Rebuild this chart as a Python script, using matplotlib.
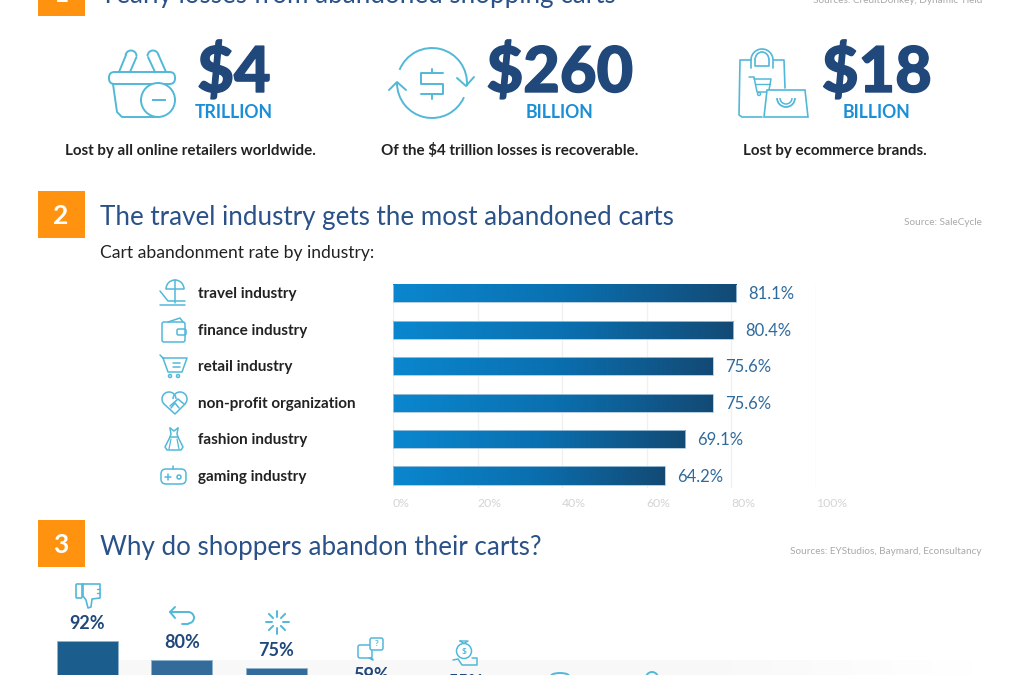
#!/usr/bin/python
# -*- coding: utf-8 -*-
import numpy as np
import matplotlib
matplotlib.use("Agg")
import matplotlib.pyplot as plt
import matplotlib.patheffects as pe
from matplotlib.colors import LinearSegmentedColormap
from matplotlib.patches import Arc, Circle, FancyBboxPatch, Polygon, Rectangle

plt.rcParams['font.family'] = ['Lato', 'DejaVu Sans']

industries = ["travel industry", "finance industry", "retail industry",
              "non-profit organization", "fashion industry", "gaming industry"]
abandon_rate = [81.1, 80.4, 75.6, 75.6, 69.1, 64.2]
rate_ticks = [0, 20, 40, 60, 80, 100]

reason_values = [92, 80, 75, 59, 55]
reason_colors = ["#1b5e8e", "#336c9b", "#336c9b", "#336c9b", "#336c9b"]

big_numbers = ["$4", "$260", "$18"]
big_units = ["TRILLION", "BILLION", "BILLION"]
big_notes = ["Lost by all online retailers worldwide.",
             "Of the $4 trillion losses is recoverable.",
             "Lost by ecommerce brands."]

W, H = 1024, 675
NAVY = "#21487a"
TITLE = "#2a5288"
LINK = "#1a8fd6"
ICON = "#52b8d8"
INK = "#222222"

fig = plt.figure(figsize=(W / 100, H / 100), dpi=100)


def px_axes(x0, y0, x1, y1, **kw):
    # axes placed by pixel box, y measured from the top of the image
    return fig.add_axes([x0 / W, 1 - y1 / H, (x1 - x0) / W, (y1 - y0) / H], **kw)


# grey band behind the lower chart, fades out on the right
band = px_axes(118, 660, 975, 675)
band.imshow(np.linspace(0, 1, 256).reshape(1, -1), aspect="auto",
            cmap=LinearSegmentedColormap.from_list("band", ["#f8f8f8", "#f8f8f8", "#f8f8f8", "#ffffff"]))
band.axis("off")

# layer for headings, icons and notes, in image pixels
bg = px_axes(0, 0, W, H)
bg.set_xlim(0, W)
bg.set_ylim(H, 0)
bg.axis("off")
bg.patch.set_alpha(0)


def line(xs, ys, lw=1.4, color=ICON):
    bg.plot(xs, ys, color=color, lw=lw, solid_capstyle="round", solid_joinstyle="round")


def ring(x, y, r, lw=1.4):
    bg.add_patch(Circle((x, y), r, fill=False, ec=ICON, lw=lw))


def arc(x, y, w, h, a, b, lw=1.4):
    # y axis points down here, so angles run clockwise on screen
    bg.add_patch(Arc((x, y), w, h, theta1=a, theta2=b, ec=ICON, lw=lw))


def round_box(x, y, w, h, r=2, lw=1.4):
    bg.add_patch(FancyBboxPatch((x + r, y + r), w - 2 * r, h - 2 * r, boxstyle=f"round,pad={r}",
                                fill=False, ec=ICON, lw=lw))


def section(y, num, title, source):
    bg.add_patch(Rectangle((38, y), 47, 47, color="#ff9310", lw=0))
    bg.text(61, y + 25, num, color="white", fontsize=19, fontweight="bold", ha="center", va="center")
    bg.text(100, y + 34.5, title, color=TITLE, fontsize=18.75, va="baseline")
    bg.text(982, y + 34, source, color="#a9a9a9", fontsize=7.2, ha="right", va="baseline")


section(-31, "1", "Yearly losses from abandoned shopping carts", "Sources: CreditDonkey, Dynamic Yield")
section(191, "2", "The travel industry gets the most abandoned carts", "Source: SaleCycle")
section(520, "3", "Why do shoppers abandon their carts?", "Sources: EYStudios, Baymard, Econsultancy")

bg.text(100, 258, "Cart abandonment rate by industry:", color=INK, fontsize=12.6, va="baseline")

# top row of big figures
heavy = [pe.withStroke(linewidth=1.0, foreground=NAVY)]
for i, cx in enumerate([234, 560, 877]):
    bg.text(cx, 92, big_numbers[i], color=NAVY, fontsize=45.5, fontweight="black", ha="center", va="baseline",
            path_effects=heavy)
    bg.text(cx - 0.5, 117.5, big_units[i], color=LINK, fontsize=12.7, fontweight="bold", ha="center", va="baseline")
for cx, note in zip([190, 510, 835], big_notes):
    bg.text(cx, 155, note, color=INK, fontsize=10.88, fontweight="bold", ha="center", va="baseline")

# basket icon
round_box(109, 72, 66, 12, r=5.5)
line([113, 117, 122, 157], [84, 112, 117, 117])
line([119, 126], [72, 55])
arc(131, 56, 11, 11, 190, 360)
line([136.5, 130], [57, 72])
line([148, 155], [57, 72])
arc(153, 56, 11, 11, 180, 350)
line([158.5, 166], [55, 72])
bg.add_patch(Circle((158, 100), 17, fc="white", ec=ICON, lw=1.4, zorder=3))
bg.plot([152.5, 165], [100, 100], color=ICON, lw=1.4, zorder=4)

# recycle dollar icon
arc(432, 83, 70, 70, 202, 365)
arc(432, 83, 70, 70, 24, 180)
line([457, 466, 474], [78, 86, 77])
line([389, 397, 406], [90, 82, 90])
line([443, 421, 421, 443, 443, 421], [73, 73, 84, 84, 94, 94])
line([432, 432], [68.5, 73])
line([432, 432], [94, 98.5])

# shopping bags icon
line([751, 740, 739, 742, 762], [60, 60, 115, 117, 117], lw=1.2)
line([774, 784, 785], [60, 60, 88], lw=1.2)
line([751, 751], [60, 68], lw=1.2)
line([773, 773], [60, 68], lw=1.2)
arc(762, 60, 22, 22, 180, 360, lw=1.2)
arc(762, 60, 14, 16, 180, 360, lw=1.2)
line([755, 755, 769, 769], [60, 66, 66, 60], lw=1.2)
line([749, 754, 757, 769], [77, 77, 92, 92], lw=1.1)
line([754, 771, 769], [79, 79, 90], lw=1.1)
line([755, 770], [84, 84], lw=1)
ring(759, 94, 1.5, lw=1)
bg.add_patch(Polygon([[767, 90], [805, 90], [808, 117], [764, 117]], fc="white", ec=ICON, lw=1.2, zorder=3))
bg.add_patch(Arc((786, 98), 18, 18, theta1=0, theta2=180, ec=ICON, lw=1.3, zorder=4))
bg.add_patch(Arc((786, 98), 12, 12, theta1=0, theta2=180, ec=ICON, lw=1.1, zorder=4))

# industry icons
arc(175, 289, 18, 18, 180, 360, lw=1.1)
line([166, 184], [289, 289], lw=1.1)
line([175, 175], [280, 303], lw=1.1)
line([160, 168, 185], [291, 301, 301], lw=1.1)
line([160, 185], [305, 305], lw=1.1)
round_box(162, 322, 23, 20, r=2, lw=1.1)
line([168, 180, 183], [322, 318, 322], lw=1.1)
round_box(177, 329, 9, 6, r=1.5, lw=1.1)
line([160, 163, 168, 182, 187, 163], [355, 358, 372, 372, 358, 358], lw=1.1)
line([173, 180], [363, 363], lw=1.1)
line([173, 180], [367, 367], lw=1.1)
ring(170, 376, 1.5, lw=1.1)
ring(178, 376, 1.5, lw=1.1)
arc(169, 399, 14, 14, 135, 360, lw=1.1)
arc(180, 399, 14, 14, 180, 405, lw=1.1)
line([164, 175, 185], [404, 414, 404], lw=1.1)
line([170, 178, 184], [406, 399, 404], lw=1.1)
line([171, 175, 179], [408, 403, 408], lw=1.1)
line([170, 171, 170, 165, 167, 181, 183, 178, 177, 178], [428, 434, 437, 447, 450, 450, 447, 437, 434, 428], lw=1.1)
line([170, 178], [437, 437], lw=1.1)
line([170, 174, 178], [428, 431, 428], lw=1.1)
line([171, 169], [439, 449], lw=0.9)
line([177, 179], [439, 449], lw=0.9)
round_box(161, 469, 25, 15, r=5, lw=1.1)
line([168, 168], [473.5, 480], lw=1.1)
line([165, 171], [477, 477], lw=1.1)
ring(179, 477, 2, lw=1.1)
line([173, 173], [466, 469], lw=1.1)

# reason icons
round_box(76, 584, 6, 14, r=1, lw=1.2)
line([83, 100, 100, 92, 91, 88, 86, 83, 83], [584, 584, 598, 599, 607, 608, 600, 596, 584], lw=1.2)
line([97, 100], [589, 589], lw=1)
line([97, 100], [593, 593], lw=1)
line([170, 188], [612, 612])
line([175, 170, 175], [607, 612, 618])
arc(188, 617.7, 12, 11.5, -90, 90)
line([182, 188], [623.5, 623.5])
for a in range(0, 360, 45):
    ca, sa = np.cos(np.radians(a)), np.sin(np.radians(a))
    line([277 + 5.5 * ca, 277 + 11.5 * ca], [622 + 5.5 * sa, 622 + 11.5 * sa])
round_box(358, 645, 14, 13, r=2, lw=1.1)
line([372, 373, 369], [658, 660, 658], lw=1.1)
bg.add_patch(FancyBboxPatch((372, 640), 9, 8, boxstyle="round,pad=2", fc="white", ec=ICON, lw=1.1, zorder=3))
bg.text(376.5, 644, "?", color=ICON, fontsize=6, ha="center", va="center", fontweight="bold", zorder=4)
ring(464, 651, 7.5, lw=1.1)
line([460, 464, 468, 460], [641, 643.5, 641, 641], lw=1)
bg.text(464, 652, "$", color=ICON, fontsize=6, ha="center", va="center", fontweight="bold")
line([453, 458, 462, 477, 477, 472], [660, 659, 665, 665, 658, 658], lw=1.1)
arc(560, 676, 18, 6, 180, 360)
arc(652, 678, 12, 12, 180, 360)

# bar chart of abandonment rates
ax = px_axes(393, 285, 816, 488)
ax.patch.set_alpha(0)
y_pos = np.arange(len(industries))
ax.set_xlim(0, 100)
ylim = (5 + (488 - 475.5) / 36.45, -(293.3 - 285) / 36.45)
ax.set_ylim(*ylim)
ax.grid(axis="x", color="#f0f0f0", lw=1)
ax.set_axisbelow(True)
for s in ax.spines.values():
    s.set_visible(False)
ax.set_yticks([])
ax.set_xticks(rate_ticks)
ax.set_xticklabels([])
ax.tick_params(length=0)

bar_cmap = LinearSegmentedColormap.from_list("bar", ["#0a87cf", "#0a70b0", "#134a75"])
bars = ax.barh(y_pos, abandon_rate, height=0.5, color="none", ec="#a9c6dc", lw=0.6, zorder=3)
for b, rate in zip(bars, abandon_rate):
    y0, h = b.get_y(), b.get_height()
    # gradient a little larger than the bar and clipped to it, so no gap shows at the edge
    im = ax.imshow(np.linspace(0, 1, 256).reshape(1, -1), extent=[0, rate, y0 + h + 0.05, y0 - 0.05],
                   aspect="auto", cmap=bar_cmap, zorder=2)
    im.set_clip_path(b)
ax.set_xlim(0, 100)
ax.set_ylim(*ylim)

for y, name, rate in zip(y_pos, industries, abandon_rate):
    ax.text(rate + 2.9, y + 0.03, f"{rate}%", color="#2f6a9c", fontsize=12, va="center", clip_on=False)
    bg.text(198.5, 294.3 + y * 36.45, name, color=INK, fontsize=10.95, fontweight="bold", va="center")
for t in rate_ticks:
    ax.text(t - 0.1, 5.78, f"{t}%", color="#d4d4d4", fontsize=8.8, va="center", clip_on=False)

# lower bar chart, cut by the image edge as in the original
ax2 = px_axes(40, 600, 999, 800)
ax2.patch.set_alpha(0)
ax2.axis("off")
ax2.set_xlim(-0.5, 9.65)
ax2.set_ylim(92 - (800 - 641) / 1.58, 92 + (641 - 600) / 1.58)
x_pos = np.arange(len(reason_values))
ax2.bar(x_pos, reason_values, width=0.65, color=reason_colors, ec="#8fb3cf", lw=0.6)
for x, v in zip(x_pos, reason_values):
    ax2.text(x, v + 7.4, f"{v}%", color=NAVY, fontsize=13, fontweight="bold", ha="center", va="baseline")

fig.savefig("out.png", dpi=100)
